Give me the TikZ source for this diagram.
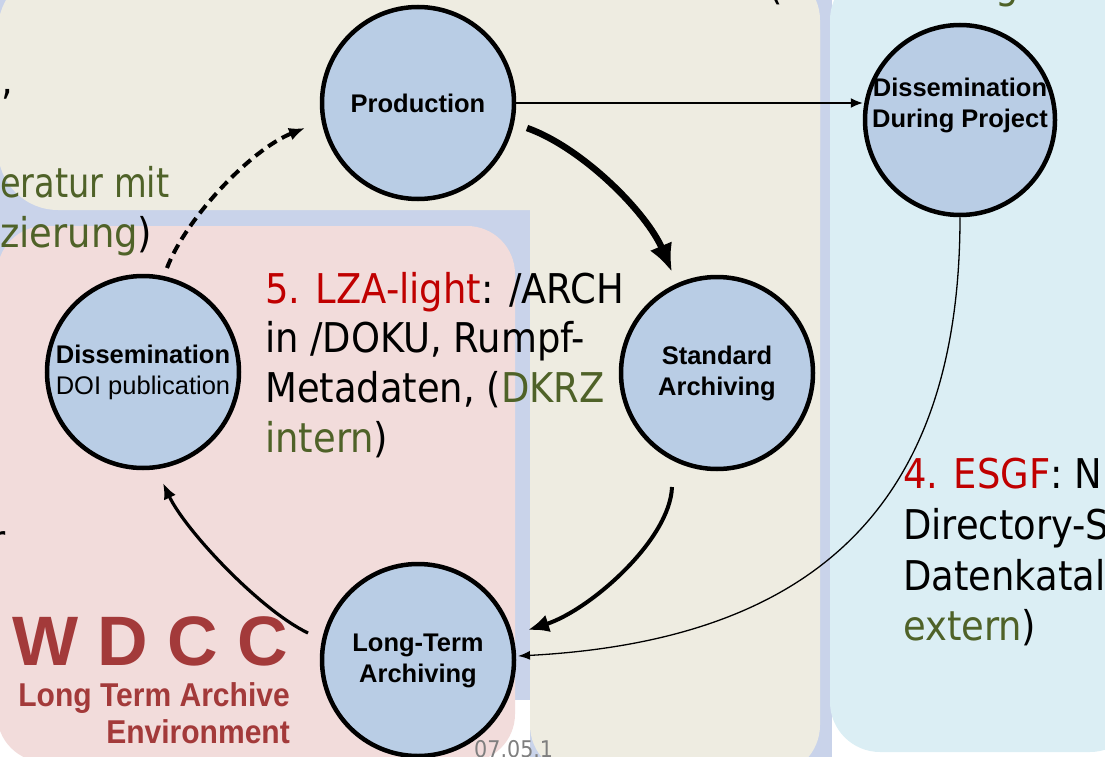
\documentclass[tikz,border=0pt]{standalone}
\usepackage{fontspec}
\usepackage{graphicx}
\setmainfont{Liberation Sans}
\newfontfamily\slidefont{DejaVu Sans Condensed}
\usetikzlibrary{arrows.meta,calc}
\definecolor{lav}{HTML}{C9D3EA}
\definecolor{beige}{HTML}{EEECE1}
\definecolor{pinkbg}{HTML}{F2DCDB}
\definecolor{lblue}{HTML}{DBEEF4}
\definecolor{cfill}{HTML}{B9CDE5}
\definecolor{tred}{HTML}{C00000}
\definecolor{tgreen}{HTML}{4F6228}
\definecolor{wred}{HTML}{A33A3A}
\definecolor{dategray}{HTML}{7F7F7F}
\begin{document}
\begin{tikzpicture}[x=1pt,y=-1pt,
  stage/.style={circle, draw=black, line width=4.5pt, fill=cfill, minimum size=192pt,
    inner sep=0pt, align=center, font=\bfseries\fontsize{25.5}{31}\selectfont},
  stagetext/.style={inner sep=0pt, align=center, font=\bfseries\fontsize{25.5}{31}\selectfont},
  slide/.style={anchor=base west, inner sep=0pt, font=\slidefont\fontsize{41}{50}\selectfont},
  logo/.style={inner sep=0pt, text=wred, font=\bfseries},
]
\useasboundingbox (0,0) rectangle (1105,757);
\clip (0,0) rectangle (1105,757);

% backgrounds
\fill[lav] (0,0) rectangle (832,757);
\fill[white] (0,700) rectangle (530,757);
\fill[beige, rounded corners=60pt] (-2,-30) rectangle (820,210);
\fill[beige, rounded corners=50pt] (530,-30) rectangle (820,775);
\fill[pinkbg, rounded corners=48pt] (-3,226) rectangle (515,762);
\fill[lblue, rounded corners=50pt] (830,-30) rectangle (1140,752);

% cut-off texts
\node[slide] (frag1) at (1,95) {,};
\node[slide, text=tgreen] (lit1) at (0,197) {\scalebox{0.91}[1]{eratur mit}};
\node[slide, text=tgreen] (lit2) at (0,247) {zierung\textcolor{black}{)}};
\node[slide] (frag2) at (768,0) {(};
\node[slide, text=tgreen] (frag3) at (995,-1) {g};
\node[slide, anchor=base east] (frag4) at (6,554) {r};

\node[slide] (lza1) at (265,303) {\textcolor{tred}{5. LZA-light}: /ARCH};
\node[slide] (lza2) at (265,352) {in /DOKU, Rumpf-};
\node[slide] (lza3) at (265,402) {Metadaten, (\textcolor{tgreen}{DKRZ}};
\node[slide] (lza4) at (265,452) {\textcolor{tgreen}{intern})};

\node[slide] (esgf1) at (903,488) {\textcolor{tred}{4. ESGF}: N};
\node[slide] (esgf2) at (903,539) {Directory-S};
\node[slide] (esgf3) at (903,590) {Datenkatalo};
\node[slide] (esgf4) at (903,640) {\textcolor{tgreen}{extern})};

% logo
\node[logo, anchor=base west, font=\bfseries\fontsize{70}{70}\selectfont] (wdcc) at (12,665) {W D C C};
\node[logo, anchor=base east, font=\bfseries\fontsize{33}{33}\selectfont] (lta) at (290,706) {\scalebox{0.91}[1]{Long Term Archive}};
\node[logo, anchor=base east, font=\bfseries\fontsize{33}{33}\selectfont] (env) at (290,743) {\scalebox{0.91}[1]{Environment}};

% date
\node[anchor=base west, inner sep=0pt, text=dategray, font=\slidefont\fontsize{23}{23}\selectfont] (date) at (474,757) {07.05.1};

% stages
\node[stage] (prod) at (418,103) {Production};
\node[stage, minimum size=190pt] (ddp) at (960,120) {};
\node[stagetext] (ddptext) at ($(ddp)+(0,-15)$) {Dissemination\\During Project};
\node[stage] (std) at (717,373) {Standard\\Archiving};
\node[stage] (lt) at (418,660) {};
\node[stagetext] (lttext) at ($(lt)+(0,1)$) {Long-Term\\Archiving};
\node[stage] (doi) at (143,372) {Dissemination\\\mdseries DOI publication};

% connectors
\draw[line width=1.5pt, -{Latex[length=12pt,width=10pt]}] (prod.east) -- (prod.east -| ddp.west);
\draw[line width=6.5pt, -{Latex[length=28pt,width=24pt]}]
  ($(prod)+(109,25)$) .. controls ($(prod)+(165,45)$) and ($(std)+(-70,-160)$) .. ($(std)+(-45,-101)$);
\draw[line width=4pt, -{Latex[length=21pt,width=18pt]}]
  ($(std)+(-45,114)$) .. controls ($(std)+(-47,167)$) and ($(lt)+(172,-50)$) .. ($(lt)+(110,-30)$);
\draw[line width=3.2pt, -{Latex[length=16pt,width=13pt]}]
  ($(lt)+(-110,-27)$) .. controls ($(lt)+(-158,-50)$) and ($(doi)+(42,158)$) .. ($(doi)+(20,111)$);
\draw[line width=4pt, dash pattern=on 10pt off 6pt, -{Latex[length=16pt,width=13pt]}]
  ($(doi)+(24,-104)$) .. controls ($(doi)+(42,-152)$) and ($(prod)+(-168,47)$) .. ($(prod)+(-113,25)$);
\draw[line width=1.3pt, -{Latex[length=12pt,width=9pt]}]
  (ddp.south) .. controls ($(ddp)+(0,380)$) and ($(lt)+(402,-20)$) .. ($(lt)+(100,-4)$);
\end{tikzpicture}
\end{document}
